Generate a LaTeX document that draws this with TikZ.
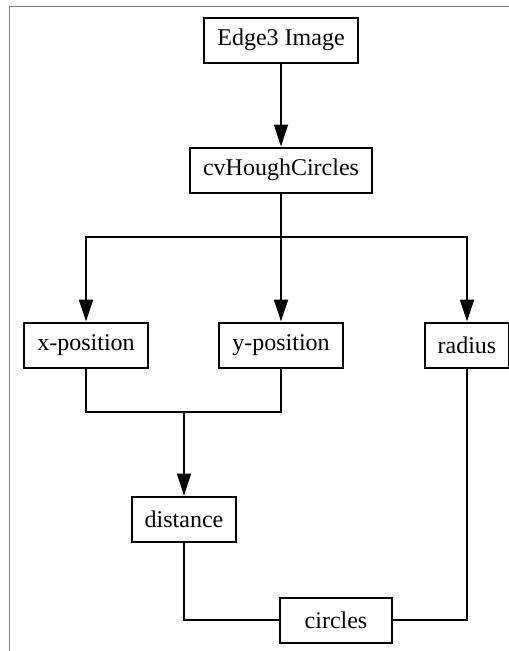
\documentclass[tikz,border=0pt]{standalone}
\usepackage{fontspec}
\setmainfont{Liberation Serif}
\usetikzlibrary{arrows.meta}
\tikzset{
  block/.style={draw,line width=2pt,minimum height=45pt,inner xsep=13pt,
    font=\fontsize{24}{28}\selectfont},
  flow/.style={line width=1.8pt,-{Triangle[length=22pt,width=14pt]}},
  link/.style={line width=1.8pt}
}
\begin{document}
\begin{tikzpicture}[x=1pt,y=-1pt]
  \useasboundingbox (0,0) rectangle (509,651);
  % Rahmen
  \draw[gray,line width=1.5pt] (9.5,651) -- (9.5,6.5) -- (509,6.5);
  % Bloecke
  \node[block] (edge)     at (281,40)  {Edge3 Image};
  \node[block] (hough)    at (281,170) {cvHoughCircles};
  \node[block] (xpos)     at (86,345)  {x-position};
  \node[block] (ypos)     at (281,345) {y-position};
  \node[block] (radius)   at (467,345) {radius};
  \node[block] (distance) at (184,519) {distance};
  \node[block,minimum width=112pt] (circles) at (336,620) {circles};
  \coordinate (split) at (281,237);
  \coordinate (merge) at (184,412);
  % Verbindungen
  \draw[flow] (edge) -- (hough);
  \draw[link] (hough) -- (split);
  \draw[flow] (split) -| (xpos);
  \draw[flow] (split) -- (ypos);
  \draw[flow] (split) -| (radius);
  \draw[link] (xpos) |- (merge);
  \draw[link] (ypos) |- (merge);
  \draw[flow] (merge) -- (distance);
  \draw[link] (distance) |- (circles);
  \draw[link] (radius) |- (circles);
\end{tikzpicture}
\end{document}
